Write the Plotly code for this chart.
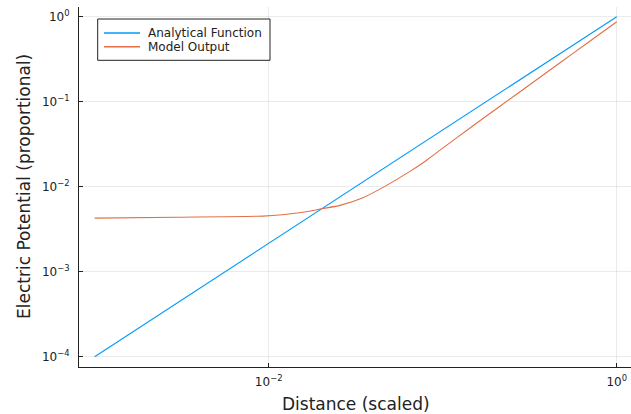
import plotly.graph_objects as go

# Data (log-log)
distance_analytical = [0.001, 0.01, 0.1, 1.0]
analytical = [0.0001, 0.00215, 0.0464, 1.0]

distance_model = [0.001, 0.003, 0.0093, 0.012, 0.015, 0.018, 0.0202, 0.0257,
                  0.0348, 0.0454, 0.0648, 0.0794, 0.1, 0.1435, 0.2133, 0.3162,
                  0.4677, 0.684, 1.0]
model = [0.00427, 0.00438, 0.00451, 0.00468, 0.00494, 0.00525, 0.00551, 0.00603,
         0.00742, 0.00982, 0.01514, 0.01995, 0.0284, 0.0491, 0.0885, 0.1585,
         0.283, 0.497, 0.873]

series_names = ["Analytical Function", "Model Output"]
series_colors = ["#009AFA", "#E26F46"]

x_tickvals = [0.01, 1]
x_ticktext = ["10<sup>−2</sup>", "10<sup>0</sup>"]
y_tickvals = [1e-4, 1e-3, 1e-2, 1e-1, 1]
y_ticktext = ["10<sup>−4</sup>", "10<sup>−3</sup>", "10<sup>−2</sup>", "10<sup>−1</sup>", "10<sup>0</sup>"]

FONT = "DejaVu Sans"

fig = go.Figure()
fig.add_trace(go.Scatter(x=distance_analytical, y=analytical, mode="lines",
                         name=series_names[0], showlegend=False,
                         line=dict(color=series_colors[0], width=1.1)))
fig.add_trace(go.Scatter(x=distance_model, y=model, mode="lines",
                         name=series_names[1], showlegend=False,
                         line=dict(color=series_colors[1], width=1.1,
                                   shape="spline", smoothing=0.6)))

W, H = 631, 414
L, R, T, B = 79, 0, 7, 47
pw, ph = W - L - R, H - T - B

def px(x):
    return (x - L) / pw

def py(y):
    return (H - B - y) / ph

axis_common = dict(type="log", showline=True, linecolor="#222", linewidth=1,
                   ticks="inside", ticklen=4, tickcolor="#222",
                   showgrid=True, gridcolor="rgba(0,0,0,0.08)", gridwidth=1,
                   zeroline=False, mirror=False,
                   tickfont=dict(family=FONT, size=12, color="#222"))

fig.update_layout(
    width=W, height=H,
    margin=dict(l=L, r=R, t=T, b=B, pad=0),
    plot_bgcolor="white", paper_bgcolor="white",
    font=dict(family=FONT, color="#222"),
    xaxis=dict(range=[-3.09, 0.082], tickvals=x_tickvals, ticktext=x_ticktext,
               ticklabelstandoff=4, **axis_common),
    yaxis=dict(range=[-4.121, 0.114], tickvals=y_tickvals, ticktext=y_ticktext,
               ticklabelstandoff=6, **axis_common),
)

# Axis titles
fig.add_annotation(text="Distance (scaled)", xref="paper", yref="paper",
                   x=px(356), y=py(404), xanchor="center", yanchor="middle",
                   showarrow=False, font=dict(family=FONT, size=17, color="#222"))
fig.add_annotation(text="Electric Potential (proportional)", xref="paper", yref="paper",
                   x=px(24), y=py(187), xanchor="center", yanchor="middle", textangle=-90,
                   showarrow=False, font=dict(family=FONT, size=17, color="#222"))

# Legend (drawn manually to match compact spacing)
fig.add_shape(type="rect", xref="paper", yref="paper",
              x0=px(97.7), x1=px(270), y0=py(60.3), y1=py(19),
              line=dict(color="#222", width=1), fillcolor="white", layer="above")
for i, (name, col) in enumerate(zip(series_names, series_colors)):
    yy = 33 + i * 13.7
    fig.add_shape(type="line", xref="paper", yref="paper",
                  x0=px(104), x1=px(140), y0=py(yy), y1=py(yy),
                  line=dict(color=col, width=1.5), layer="above")
    fig.add_annotation(text=name, xref="paper", yref="paper",
                       x=px(146), y=py(yy), xanchor="left", yanchor="middle",
                       showarrow=False, font=dict(family=FONT, size=12, color="#222"))

fig.write_html("out.html", config={"displayModeBar": False},
               post_script="document.body.style.margin='0';document.body.style.overflow='hidden';")
